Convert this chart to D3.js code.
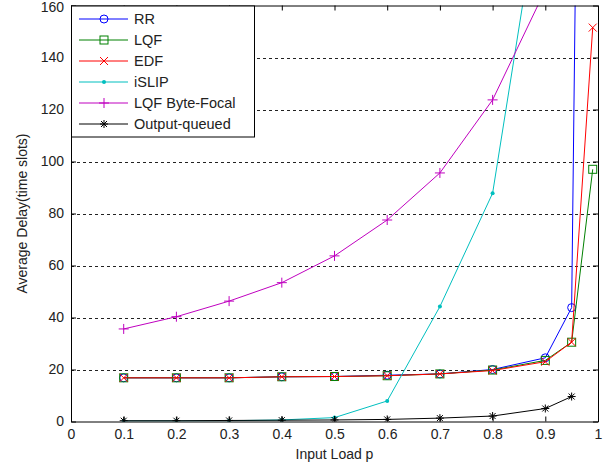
<!DOCTYPE html>
<html lang="en">
<head>
  <meta charset="UTF-8">
  <title>Average Delay</title>
  <style>
    body { margin: 0; background: #fff; }
    text { font-family: "Liberation Sans", Arial, sans-serif; }
  </style>
</head>
<body>
  <svg id="svg" width="613" height="470"></svg>

  <script src="https://d3js.org/d3.v7.min.js"></script>
  <script>
    // input loads
    const loads = [0.1, 0.2, 0.3, 0.4, 0.5, 0.6, 0.7, 0.8, 0.9, 0.95, 0.99]

    // average delay per scheduler (values above 160 leave the plot)
    const rr = [16.8, 16.8, 16.8, 17.2, 17.3, 17.8, 18.3, 20.0, 24.5, 43.8, 750]
    const lqf = [16.8, 16.8, 16.8, 17.2, 17.3, 17.6, 18.3, 19.8, 23.5, 30.5, 97]
    const edf = [16.8, 16.8, 16.8, 17.2, 17.3, 17.6, 18.3, 19.6, 23.0, 30.5, 151.5]
    const islip = [0.2, 0.2, 0.3, 0.6, 1.5, 7.9, 44.2, 87.8, 215]
    const byteFocal = [35.6, 40.3, 46.3, 53.4, 63.7, 77.5, 95.6, 123.7, 166]
    const outputQueued = [0.3, 0.3, 0.4, 0.5, 0.6, 0.8, 1.3, 2.1, 5.0, 9.6]

    const seriesNames = ['RR', 'LQF', 'EDF', 'iSLIP', 'LQF Byte-Focal', 'Output-queued']
    const seriesValues = [rr, lqf, edf, islip, byteFocal, outputQueued]
    const colors = ['#0000ff', '#008000', '#ff0000', '#00bfbf', '#bf00bf', '#000000']
    const markers = ['circle', 'square', 'x', 'dot', 'plus', 'star']

    const xTicks = [0, 0.1, 0.2, 0.3, 0.4, 0.5, 0.6, 0.7, 0.8, 0.9, 1]
    const yTicks = [0, 20, 40, 60, 80, 100, 120, 140, 160]

    const pLeft = 71, pRight = 598, pTop = 5.5, pBottom = 421.5

    const x = d3.scaleLinear().domain([0, 1]).range([pLeft, pRight])
    const y = d3.scaleLinear().domain([0, 160]).range([pBottom, pTop])

    const svg = d3.select('#svg')

    svg.append('defs').append('clipPath').attr('id', 'plot')
      .append('rect')
      .attr('x', pLeft).attr('y', pTop)
      .attr('width', pRight - pLeft).attr('height', pBottom - pTop)

    // dashed horizontal grid
    svg.append('g')
      .selectAll('line')
      .data(yTicks.filter(d => d > 0 && d < 160))
      .enter()
      .append('line')
      .attr('x1', pLeft).attr('x2', pRight)
      .attr('y1', d => Math.round(y(d)) + 0.5).attr('y2', d => Math.round(y(d)) + 0.5)
      .attr('stroke', '#222')
      .attr('stroke-dasharray', '3,3')

    function drawMarker(g, type, color) {
      if (type === 'circle') {
        g.append('circle').attr('r', 4).attr('fill', 'none').attr('stroke', color)
      } else if (type === 'square') {
        g.append('rect').attr('x', -4).attr('y', -4).attr('width', 8).attr('height', 8)
          .attr('fill', 'none').attr('stroke', color)
      } else if (type === 'x') {
        g.append('path').attr('d', 'M-4,-4L4,4M-4,4L4,-4').attr('stroke', color)
      } else if (type === 'dot') {
        g.append('circle').attr('r', 2).attr('fill', color)
      } else if (type === 'plus') {
        g.append('path').attr('d', 'M-5,0L5,0M0,-5L0,5').attr('stroke', color)
      } else if (type === 'star') {
        g.append('path').attr('d', 'M-4,0L4,0M0,-4L0,4M-3,-3L3,3M-3,3L3,-3').attr('stroke', color)
      }
    }

    const plot = svg.append('g').attr('clip-path', 'url(#plot)')
    const line = d3.line().x(d => x(d[0])).y(d => y(d[1]))

    seriesValues.forEach((vals, i) => {
      const pts = vals.map((v, j) => [loads[j], v])
      plot.append('path')
        .attr('d', line(pts))
        .attr('fill', 'none')
        .attr('stroke', colors[i])
        .attr('stroke-width', 1)

      plot.selectAll(null)
        .data(pts.filter(p => p[1] <= 160))
        .enter()
        .append('g')
        .attr('transform', p => `translate(${x(p[0])},${y(p[1])})`)
        .each(function () { drawMarker(d3.select(this), markers[i], colors[i]) })
    })

    // axes with inward ticks
    const tickColor = '#222'
    svg.append('g')
      .attr('transform', `translate(0,${pBottom})`)
      .call(d3.axisBottom(x).tickValues(xTicks).tickFormat(d3.format('')).tickSizeInner(-5).tickSizeOuter(0).tickPadding(8))
    const yAxis = svg.append('g')
      .attr('transform', `translate(${pLeft},0)`)
      .call(d3.axisLeft(y).tickValues(yTicks).tickSizeInner(-5).tickSizeOuter(0).tickPadding(7))
    // keep the top label inside the picture
    yAxis.selectAll('.tick').filter(d => d === 160).select('text').attr('y', 2)

    svg.append('g')
      .attr('transform', `translate(0,${pTop})`)
      .call(d3.axisTop(x).tickValues(xTicks).tickFormat('').tickSizeInner(-5).tickSizeOuter(0))
    svg.append('g')
      .attr('transform', `translate(${pRight},0)`)
      .call(d3.axisRight(y).tickValues(yTicks).tickFormat('').tickSizeInner(-5).tickSizeOuter(0))

    svg.selectAll('.tick text')
      .style('font-size', '14px')
      .attr('fill', tickColor)
    svg.selectAll('.domain, .tick line').attr('stroke', '#000')

    svg.append('text')
      .text('Input Load p')
      .attr('x', (pLeft + pRight) / 2)
      .attr('y', 459)
      .attr('text-anchor', 'middle')
      .style('font-size', '14px')
      .attr('fill', tickColor)

    svg.append('text')
      .text('Average Delay(time slots)')
      .attr('transform', `translate(27,${(pTop + pBottom) / 2}) rotate(-90)`)
      .attr('text-anchor', 'middle')
      .style('font-size', '14px')
      .attr('fill', tickColor)

    // legend
    const legend = svg.append('g')
    legend.append('rect')
      .attr('x', pLeft + 0.5).attr('y', pTop + 0.5)
      .attr('width', 183).attr('height', 131)
      .attr('fill', '#fff')
      .attr('stroke', '#000')

    seriesNames.forEach((name, i) => {
      const ly = 19 + i * 21
      const row = legend.append('g').attr('transform', `translate(0,${ly})`)
      row.append('line')
        .attr('x1', 79).attr('x2', 128)
        .attr('stroke', colors[i])
      const m = row.append('g').attr('transform', 'translate(104,0)')
      drawMarker(m, markers[i], colors[i])
      row.append('text')
        .text(name)
        .attr('x', 134)
        .attr('dy', '0.36em')
        .style('font-size', '14.5px')
        .attr('fill', tickColor)
    })
  </script>
</body>
</html>
